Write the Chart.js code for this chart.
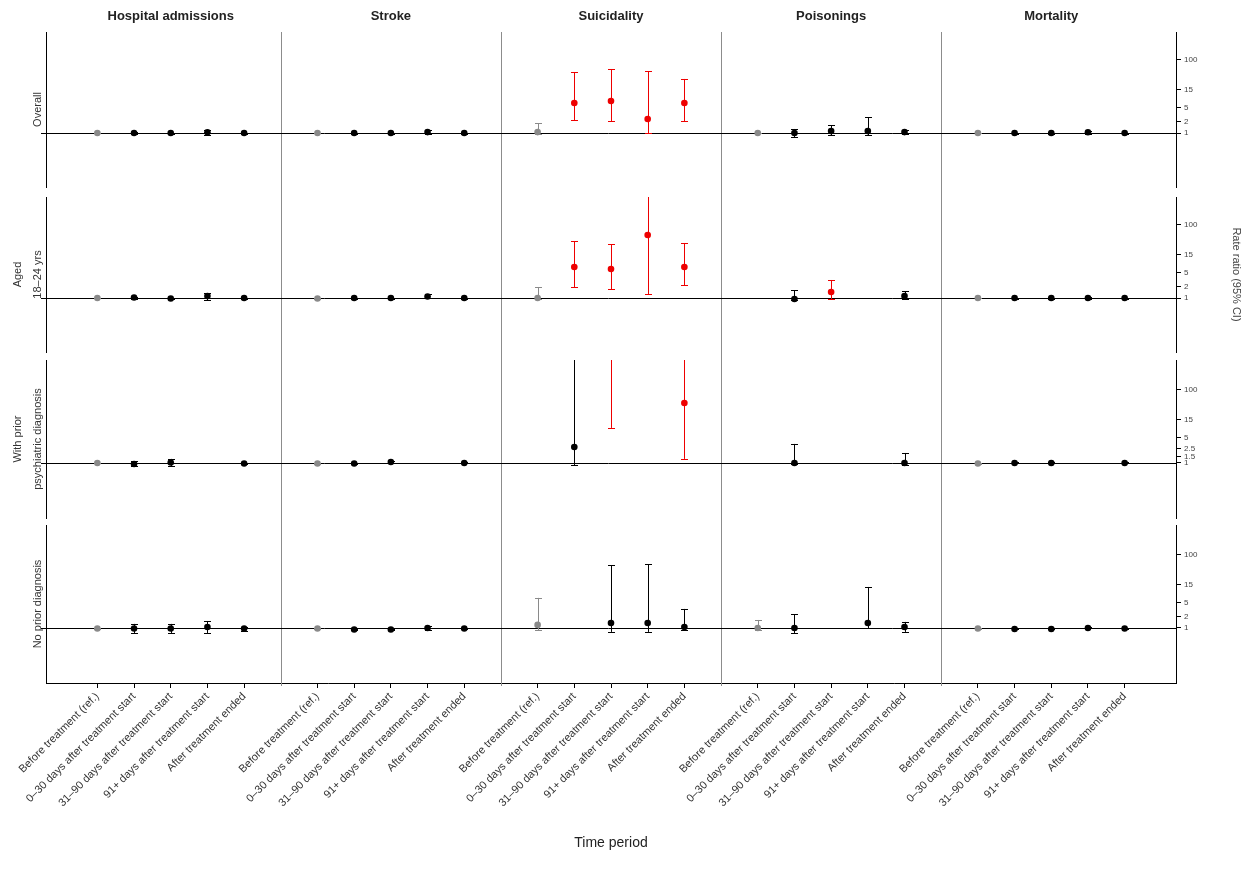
<!DOCTYPE html>
<html>
<head>
<meta charset="utf-8">
<script src="https://cdn.jsdelivr.net/npm/chart.js@4.4.1/dist/chart.umd.min.js"></script>
<style>
  body { margin: 0; background: #fff; }
  canvas { position: absolute; left: 0; }
</style>
</head>
<body>
<canvas id="row1" width="1251" height="195" style="top:0px"></canvas>
<canvas id="row2" width="1251" height="171" style="top:189px"></canvas>
<canvas id="row3" width="1251" height="174" style="top:352px"></canvas>
<canvas id="row4" width="1251" height="352" style="top:517px"></canvas>
<script>
// outcome panels (columns) and time periods (x categories inside each panel)
const outcomes = ["Hospital admissions", "Stroke", "Suicidality", "Poisonings", "Mortality"];
const periods = [
  "Before treatment (ref.)",
  "0\u201330 days after treatment start",
  "31\u201390 days after treatment start",
  "91+ days after treatment start",
  "After treatment ended"
];
// row labels (subgroups)
const groups = [["Overall"], ["Aged", "18\u201324 yrs"], ["With prior", "psychiatric diagnosis"], ["No prior diagnosis"]];

// right axis ticks (ratio, log scale)
const ratioTicks = [1, 2, 5, 15, 100];
const ratioTicksRow3 = [1, 1.5, 2.5, 5, 15, 100];

// estimates, 5 periods x 5 outcomes, null = not estimated
const est1 = [1.00, 1.00, 1.00, 1.05, 1.00, 1.00, 1.00, 1.00, 1.06, 1.00, 1.06, 6.6, 7.45, 2.41, 6.6, 1.00, 1.00, 1.13, 1.13, 1.06, 1.00, 1.00, 1.00, 1.05, 1.00];
const lo1 = [0.98, 0.96, 0.97, 0.90, 0.97, 0.98, 0.97, 0.97, 0.94, 0.97, 0.94, 2.26, 2.12, 1.00, 2.12, 0.98, 0.78, 0.88, 0.88, 0.94, 0.98, 0.97, 0.97, 0.96, 0.97];
const hi1 = [1.02, 1.04, 1.03, 1.22, 1.03, 1.02, 1.03, 1.03, 1.21, 1.03, 1.87, 46, 55.5, 49, 29.7, 1.02, 1.29, 1.65, 2.73, 1.21, 1.02, 1.03, 1.03, 1.14, 1.03];
const sig1 = [11, 12, 13, 14];

const est2 = [1.00, 1.03, 0.97, 1.13, 1.00, 0.97, 1.00, 1.00, 1.10, 1.00, 1.00, 7.0, 6.2, 52, 7.0, null, 0.94, 1.46, null, 1.13, 1.00, 1.00, 1.00, 1.00, 1.00];
const lo2 = [0.98, 0.97, 0.94, 0.88, 0.97, 0.95, 0.97, 0.97, 1.00, 0.97, 0.94, 2.0, 1.76, 1.29, 2.26, null, 0.88, 0.94, null, 0.94, 0.98, 0.97, 0.97, 0.96, 0.97];
const hi2 = [1.02, 1.08, 1.03, 1.37, 1.03, 1.00, 1.03, 1.03, 1.29, 1.03, 2.0, 35.8, 29.6, 900, 31.6, null, 1.65, 3.1, null, 1.55, 1.02, 1.03, 1.03, 1.04, 1.03];
const sig2 = [11, 12, 13, 14, 17];

const est3 = [1.00, 0.94, 1.03, null, 0.97, 0.97, 0.97, 1.06, null, 1.00, null, 2.73, 900, null, 43, null, 1.00, null, null, 1.00, 0.97, 1.00, 1.00, null, 1.00];
const lo3 = [0.98, 0.83, 0.83, null, 0.92, 0.95, 0.94, 1.00, null, 0.97, null, 0.88, 9.0, null, 1.29, null, 0.94, null, null, 0.88, 0.95, 0.97, 0.97, null, 0.97];
const hi3 = [1.02, 1.13, 1.29, null, 1.00, 1.00, 1.00, 1.13, null, 1.03, null, 900, 2000, null, 900, null, 3.3, null, null, 1.87, 1.00, 1.03, 1.03, null, 1.03];
const sig3 = [12, 14];

const est4 = [0.97, 0.97, 0.97, 1.06, 0.97, 0.97, 0.91, 0.91, 1.00, 0.97, 1.21, null, 1.37, 1.37, 1.06, 1.00, 1.00, null, 1.37, 1.06, 0.97, 0.94, 0.94, 1.00, 0.97];
const lo4 = [0.95, 0.73, 0.73, 0.73, 0.83, 0.95, 0.88, 0.88, 0.88, 0.94, 0.88, null, 0.78, 0.78, 0.88, 0.88, 0.73, null, 1.00, 0.78, 0.95, 0.92, 0.92, 0.97, 0.94];
const hi4 = [1.00, 1.29, 1.29, 1.55, 1.06, 1.00, 0.94, 0.94, 1.13, 1.00, 6.6, null, 52, 55, 3.3, 1.65, 2.4, null, 13.1, 1.46, 1.00, 0.97, 0.97, 1.03, 1.00];
const sig4 = [];

Chart.defaults.font.family = '"Liberation Sans", Arial, Helvetica, sans-serif';
Chart.defaults.color = "#222";

const GREY = "#8a8a8a", RED = "#ee0000", BLACK = "#000000";
const nPer = periods.length;
const slot = nPer + 1;
const separators = outcomes.slice(1).map((o, k) => slot * (k + 1));

function colourOf(p) {
  if (p.j === 0) return GREY;
  return p.sig ? RED : BLACK;
}

function buildPoints(est, lo, hi, sig) {
  let out = [];
  est.forEach((v, i) => {
    if (v === null) return;
    let k = Math.floor(i / nPer), j = i % nPer;
    out.push({ x: slot * k + j + 1, y: v, lo: lo[i], hi: hi[i], j: j, sig: sig.includes(i) });
  });
  return out;
}

// separators, reference line and error bars
const panelLines = {
  id: "panelLines",
  beforeDatasetsDraw(chart, args, opts) {
    const { ctx, chartArea } = chart;
    const x = chart.scales.x, y = chart.scales.y;
    ctx.save();
    ctx.lineWidth = 1;
    ctx.strokeStyle = "#8c8c8c";
    let top = opts.first ? chartArea.top : 0;
    let bottom = opts.last ? chartArea.bottom + 3 : chart.height;
    separators.forEach(v => {
      let px = Math.round(x.getPixelForValue(v)) + 0.5;
      ctx.beginPath(); ctx.moveTo(px, top); ctx.lineTo(px, bottom); ctx.stroke();
    });
    let py = Math.round(y.getPixelForValue(1)) + 0.5;
    ctx.strokeStyle = BLACK;
    ctx.beginPath(); ctx.moveTo(chartArea.left - 5, py); ctx.lineTo(chartArea.right, py); ctx.stroke();

    ctx.beginPath();
    ctx.rect(chartArea.left, chartArea.top, chartArea.width, chartArea.height);
    ctx.clip();
    chart.data.datasets[0].data.forEach(p => {
      let px = Math.round(x.getPixelForValue(p.x)) + 0.5;
      let y1 = y.getPixelForValue(p.lo), y2 = y.getPixelForValue(p.hi);
      ctx.strokeStyle = colourOf(p);
      ctx.beginPath();
      ctx.moveTo(px, y1); ctx.lineTo(px, y2);
      ctx.moveTo(px - 3.5, Math.round(y1) + 0.5); ctx.lineTo(px + 3.5, Math.round(y1) + 0.5);
      ctx.moveTo(px - 3.5, Math.round(y2) + 0.5); ctx.lineTo(px + 3.5, Math.round(y2) + 0.5);
      ctx.stroke();
    });
    ctx.restore();
  },
  afterDraw(chart, args, opts) {
    if (!opts.first) return;
    const { ctx } = chart;
    const x = chart.scales.x;
    ctx.save();
    ctx.font = 'bold 13px "Liberation Sans", Arial, sans-serif';
    ctx.fillStyle = "#222";
    ctx.textAlign = "center";
    ctx.textBaseline = "middle";
    outcomes.forEach((o, k) => {
      ctx.fillText(o, x.getPixelForValue(slot * k + (nPer + 1) / 2), 16);
    });
    ctx.restore();
  }
};

function makeRow(id, rowIndex, est, lo, hi, sig, ticksList, padTop, padBottom) {
  const first = rowIndex === 0, last = rowIndex === 3;
  const label = groups[rowIndex];
  const tickValues = [];
  outcomes.forEach((o, k) => periods.forEach((p, j) => tickValues.push(slot * k + j + 1)));
  return new Chart(document.getElementById(id), {
    type: "scatter",
    data: {
      datasets: [{
        data: buildPoints(est, lo, hi, sig),
        pointRadius: 3.3,
        pointHoverRadius: 3.3,
        pointBorderWidth: 0,
        pointBackgroundColor: c => colourOf(c.raw),
        pointBorderColor: c => colourOf(c.raw),
        yAxisID: "y"
      }]
    },
    options: {
      responsive: false,
      animation: false,
      events: [],
      layout: { padding: { top: padTop, bottom: padBottom, left: 0, right: 0 } },
      plugins: {
        legend: { display: false },
        tooltip: { enabled: false },
        panelLines: { first: first, last: last }
      },
      scales: {
        x: {
          type: "linear",
          display: last,
          min: -0.4,
          max: 30.4,
          afterBuildTicks: s => { s.ticks = tickValues.map(v => ({ value: v })); },
          afterFit: s => { if (last) s.height = 186; },
          grid: { drawOnChartArea: false, drawTicks: true, tickLength: 5, color: BLACK },
          border: { display: true, color: BLACK, width: 1 },
          ticks: {
            autoSkip: false,
            minRotation: 45,
            maxRotation: 45,
            padding: 2,
            color: "#333",
            font: { size: 11 },
            callback: v => periods[(Math.round(v) - 1) % slot]
          },
          title: {
            display: true,
            text: "Time period",
            color: "#222",
            font: { size: 14 },
            padding: { top: 4, bottom: 17 }
          }
        },
        yl: {
          type: "linear",
          position: "left",
          display: true,
          afterFit: s => { s.width = 46; },
          grid: { display: true, drawOnChartArea: false, drawTicks: false },
          border: { display: true, color: BLACK, width: 1 },
          ticks: { display: false },
          title: {
            display: true,
            text: label,
            color: "#333",
            font: { size: 11, lineHeight: 1.8 },
            padding: { top: label.length > 1 ? 8 : 28, bottom: 0 }
          }
        },
        y: {
          type: "logarithmic",
          position: "right",
          min: rowIndex >= 2 ? 0.0316 : 0.0339,
          max: rowIndex >= 2 ? 640 : 565,
          afterBuildTicks: s => { s.ticks = ticksList.map(v => ({ value: v })); },
          afterFit: s => { s.width = 75; },
          grid: { drawOnChartArea: false, drawTicks: true, tickLength: 5, color: BLACK },
          border: { display: true, color: BLACK, width: 1 },
          ticks: {
            autoSkip: false,
            padding: 3,
            color: "#444",
            font: { size: 8 },
            callback: v => String(v)
          },
          title: {
            display: rowIndex === 1,
            text: "Rate ratio (95% CI)",
            color: "#444",
            font: { size: 11 },
            padding: { top: 8, bottom: 0 }
          }
        }
      }
    },
    plugins: [panelLines]
  });
}

makeRow("row1", 0, est1, lo1, hi1, sig1, ratioTicks, 32, 8);
makeRow("row2", 1, est2, lo2, hi2, sig2, ratioTicks, 8, 8);
makeRow("row3", 2, est3, lo3, hi3, sig3, ratioTicksRow3, 8, 8);
makeRow("row4", 3, est4, lo4, hi4, sig4, ratioTicks, 8, 0);
</script>
</body>
</html>
